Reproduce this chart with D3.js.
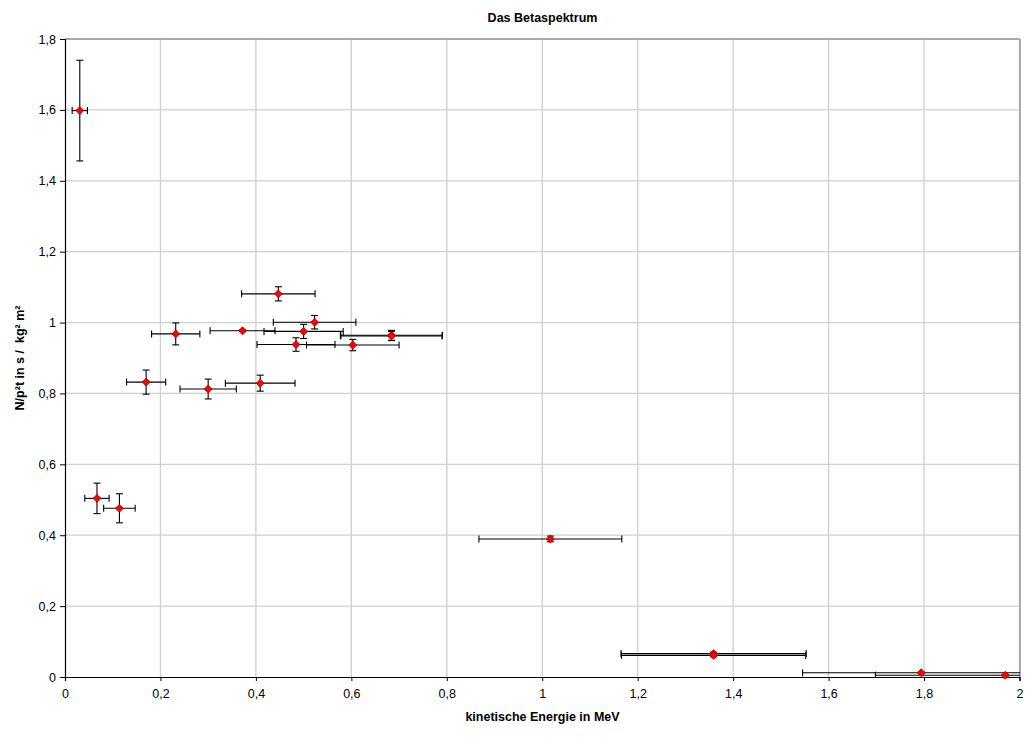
<!DOCTYPE html>
<html>
<head>
<meta charset="utf-8">
<script src="https://cdn.jsdelivr.net/npm/d3@7"></script>
<style>
  body { margin: 0; background: #fff; }
  svg { font-family: "Liberation Sans", Arial, sans-serif; }
  .tick text { font-size: 12.5px; fill: #000; }
  .title, .axis-label { font-weight: bold; font-size: 12.5px; white-space: pre; }
</style>
</head>
<body>
<div id="chart"></div>
<script>
// Das Betaspektrum

// kinetic energy (MeV)
const energy =   [0.031, 0.067, 0.114, 0.170, 0.232, 0.300, 0.372, 0.409, 0.447, 0.484, 0.500, 0.523, 0.603, 0.684, 0.684, 1.017, 1.359, 1.359, 1.794, 1.970];
// N/p²t
const rate =     [1.598, 0.504, 0.476, 0.832, 0.968, 0.8125, 0.977, 0.829, 1.081, 0.938, 0.975, 1.001, 0.9365, 0.964, 0.962, 0.3895, 0.066, 0.061, 0.012, 0.005];
// horizontal error (MeV)
const energyErr = [0.016, 0.0255, 0.033, 0.041, 0.0506, 0.059, 0.068, 0.073, 0.077, 0.0817, 0.083, 0.0865, 0.097, 0.107, 0.106, 0.1497, 0.194, 0.193, 0.2485, 0.272];
// vertical error
const rateErr =  [0.142, 0.043, 0.041, 0.034, 0.031, 0.028, 0.002, 0.0226, 0.02, 0.019, 0.02, 0.019, 0.016, 0.014, 0.013, 0.008, 0.004, 0.004, 0.002, 0.002];

const xTicks = [0, 0.2, 0.4, 0.6, 0.8, 1, 1.2, 1.4, 1.6, 1.8, 2];
const yTicks = [0, 0.2, 0.4, 0.6, 0.8, 1, 1.2, 1.4, 1.6, 1.8];

const data = energy.map((e, i) => ({ x: e, y: rate[i], dx: energyErr[i], dy: rateErr[i] }));

const de = d3.formatLocale({ decimal: ',', thousands: '.', grouping: [3], currency: ['', ' €'] });
const fmt = de.format('~g');

const W = 1027, H = 737;
const margin = { top: 39, right: 7, bottom: 60, left: 65 };
const width = W - margin.left - margin.right;
const height = H - margin.top - margin.bottom;

const svg = d3.select('#chart').append('svg')
  .attr('width', W)
  .attr('height', H);

const g = svg.append('g')
  .attr('transform', `translate(${margin.left},${margin.top})`);

const x = d3.scaleLinear().domain([0, 2]).range([0, width - 0.5]);
const y = d3.scaleLinear().domain([0, 1.8]).range([height, 0]);

// grid
g.append('g').selectAll('line.vg')
  .data(xTicks.slice(1))
  .enter().append('line')
  .attr('x1', d => x(d)).attr('x2', d => x(d))
  .attr('y1', 0).attr('y2', height)
  .attr('stroke', '#cfcfcf').attr('stroke-width', 1.3);
g.append('g').selectAll('line.hg')
  .data(yTicks.slice(1))
  .enter().append('line')
  .attr('x1', 0).attr('x2', width)
  .attr('y1', d => y(d)).attr('y2', d => y(d))
  .attr('stroke', '#cfcfcf').attr('stroke-width', 1.3);

// plot frame top / right
g.append('line').attr('x1', 0).attr('x2', width).attr('y1', 0).attr('y2', 0)
  .attr('stroke', '#999').attr('stroke-width', 1.5);
g.append('line').attr('x1', width).attr('x2', width).attr('y1', 0).attr('y2', height)
  .attr('stroke', '#999').attr('stroke-width', 1.5);

// axes
const yAxis = g.append('g')
  .call(d3.axisLeft(y).tickValues(yTicks).tickFormat(fmt).tickSize(5).tickPadding(4));
const xAxis = g.append('g')
  .attr('transform', `translate(0,${height})`)
  .call(d3.axisBottom(x).tickValues(xTicks).tickFormat(fmt).tickSize(4).tickPadding(8));
[xAxis, yAxis].forEach(a => {
  a.select('.domain').attr('stroke', '#000').attr('stroke-width', 1.2);
  a.selectAll('.tick line').attr('stroke', '#000');
  a.selectAll('.tick text').style('font-size', '12.5px');
});

// clip for error bars
svg.append('defs').append('clipPath').attr('id', 'plot-clip')
  .append('rect').attr('x', 0).attr('y', -2).attr('width', width).attr('height', height + 2);

const bars = g.append('g').attr('clip-path', 'url(#plot-clip)');
const cap = 3.5;

// horizontal error bars
bars.selectAll('line.hx').data(data).enter().append('line')
  .attr('x1', d => x(d.x - d.dx)).attr('x2', d => x(d.x + d.dx))
  .attr('y1', d => y(d.y)).attr('y2', d => y(d.y))
  .attr('stroke', '#000').attr('stroke-width', 1.1);
bars.selectAll('line.hc1').data(data).enter().append('line')
  .attr('x1', d => x(d.x - d.dx)).attr('x2', d => x(d.x - d.dx))
  .attr('y1', d => y(d.y) - cap).attr('y2', d => y(d.y) + cap)
  .attr('stroke', '#000').attr('stroke-width', 1.1);
bars.selectAll('line.hc2').data(data).enter().append('line')
  .attr('x1', d => x(d.x + d.dx)).attr('x2', d => x(d.x + d.dx))
  .attr('y1', d => y(d.y) - cap).attr('y2', d => y(d.y) + cap)
  .attr('stroke', '#000').attr('stroke-width', 1.1);

// vertical error bars
bars.selectAll('line.vy').data(data).enter().append('line')
  .attr('x1', d => x(d.x)).attr('x2', d => x(d.x))
  .attr('y1', d => y(d.y - d.dy)).attr('y2', d => y(d.y + d.dy))
  .attr('stroke', '#000').attr('stroke-width', 1.1);
bars.selectAll('line.vc1').data(data).enter().append('line')
  .attr('x1', d => x(d.x) - cap).attr('x2', d => x(d.x) + cap)
  .attr('y1', d => y(d.y - d.dy)).attr('y2', d => y(d.y - d.dy))
  .attr('stroke', '#000').attr('stroke-width', 1.1);
bars.selectAll('line.vc2').data(data).enter().append('line')
  .attr('x1', d => x(d.x) - cap).attr('x2', d => x(d.x) + cap)
  .attr('y1', d => y(d.y + d.dy)).attr('y2', d => y(d.y + d.dy))
  .attr('stroke', '#000').attr('stroke-width', 1.1);

// markers (diamonds)
const diamond = d3.symbol().type(d3.symbolDiamond2).size(40);
g.append('g').selectAll('path.pt').data(data).enter().append('path')
  .attr('d', diamond)
  .attr('transform', d => `translate(${x(d.x)},${y(d.y)})`)
  .attr('fill', '#ff0000')
  .attr('stroke', '#a00000')
  .attr('stroke-width', 0.8);

// title and axis labels
svg.append('text').attr('class', 'title')
  .attr('x', margin.left + width / 2).attr('y', 22)
  .attr('text-anchor', 'middle')
  .text('Das Betaspektrum');

svg.append('text').attr('class', 'axis-label')
  .attr('x', margin.left + width / 2).attr('y', 721)
  .attr('text-anchor', 'middle')
  .text('kinetische Energie in MeV');

svg.append('text').attr('class', 'axis-label')
  .attr('transform', `translate(24,${margin.top + height / 2}) rotate(-90)`)
  .attr('text-anchor', 'middle')
  .text('N/p²t in s /  kg² m²');
</script>
</body>
</html>
